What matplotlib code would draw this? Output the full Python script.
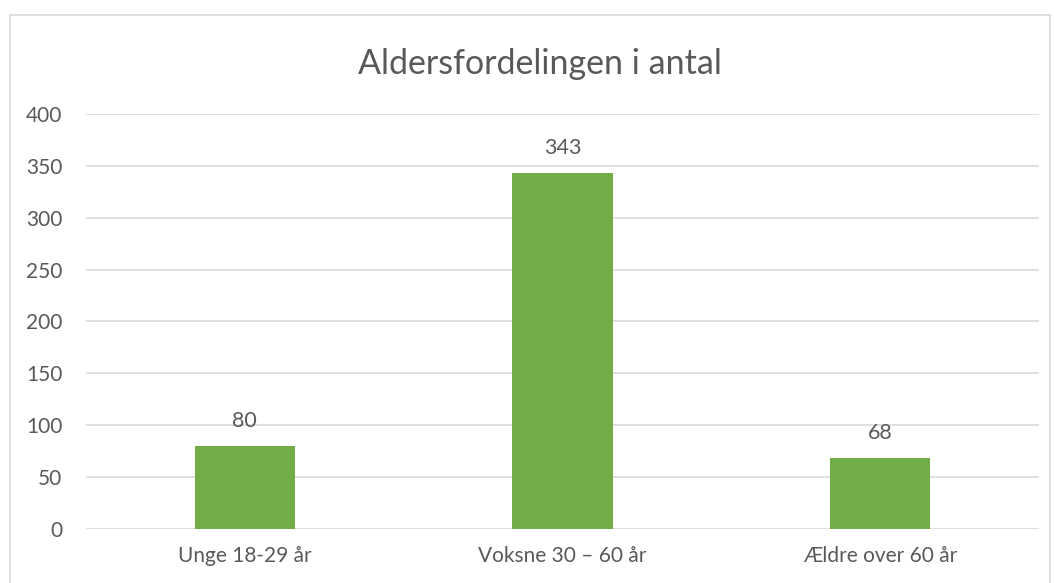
import matplotlib.pyplot as plt
from matplotlib.patches import Rectangle

categories = ['Unge 18-29 år', 'Voksne 30 – 60 år', 'Ældre over 60 år']
values = [80, 343, 68]
yticks = [0, 50, 100, 150, 200, 250, 300, 350, 400]

plt.rcParams['font.family'] = ['Lato', 'DejaVu Sans']
text_col = '#595959'

fig = plt.figure(figsize=(10.54, 5.83), dpi=100)
ax = fig.add_axes([0.0816, 0.0926, 0.9042, 0.7119])

x = range(len(categories))
bars = ax.bar(x, values, width=0.315, color='#70AD47', zorder=2)

for xi, v in zip(x, values):
    ax.annotate(str(v), (xi, v), xytext=(0, 18), textcoords='offset points',
                ha='center', va='center', fontsize=15.5, color=text_col)

ax.set_xlim(-0.5, 2.5)
ax.set_ylim(0, 400)
ax.set_yticks(yticks)
ax.set_xticks(list(x))
ax.set_xticklabels(categories)
ax.tick_params(axis='both', length=0, labelsize=15, labelcolor=text_col)
ax.tick_params(axis='y', pad=17)
ax.tick_params(axis='x', pad=12)
ax.grid(axis='y', color='#D9D9D9', linewidth=1.2, zorder=0)
for s in ax.spines.values():
    s.set_visible(False)

fig.text(0.512, 0.89, 'Aldersfordelingen i antal', ha='center', va='center',
         fontsize=24.5, color=text_col)

border = Rectangle((10 / 1054, -0.05), 1040 / 1054, 1.05 - 15 / 583,
                   transform=fig.transFigure, fill=False,
                   edgecolor='#D9D9D9', linewidth=1.2, clip_on=False)
fig.patches.append(border)

fig.savefig('out.png', dpi=100)
